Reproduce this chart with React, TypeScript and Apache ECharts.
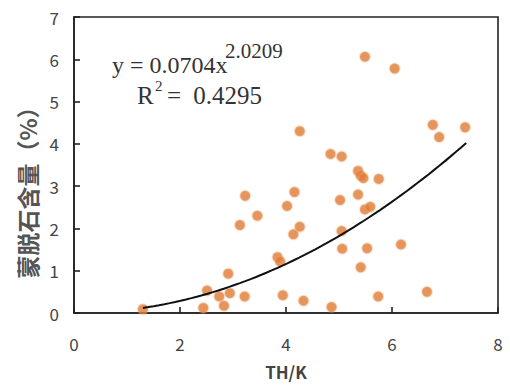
import React, { useEffect, useRef } from "react";
import * as echarts from "echarts";

const thK = [1.30, 2.44, 2.51, 2.74, 2.83, 2.94, 2.91, 3.22, 3.13, 3.23, 3.46, 3.84, 3.89, 3.94, 4.02, 4.14, 4.16, 4.26, 4.26, 4.33, 4.84, 4.86, 5.05, 5.02, 5.05, 5.06, 5.36, 5.41, 5.46, 5.36, 5.49, 5.59, 5.41, 5.53, 5.49, 5.75, 5.74, 6.05, 6.17, 6.66, 6.77, 6.89, 7.38];
const smectite = [0.09, 0.12, 0.53, 0.39, 0.17, 0.47, 0.93, 0.39, 2.08, 2.77, 2.30, 1.32, 1.22, 0.42, 2.53, 1.86, 2.86, 2.04, 4.30, 0.29, 3.76, 0.14, 3.70, 2.67, 1.94, 1.52, 3.36, 3.25, 3.19, 2.80, 2.45, 2.51, 1.08, 1.53, 6.06, 3.17, 0.39, 5.78, 1.62, 0.50, 4.45, 4.16, 4.39];

// Fitted power-law trendline shown in the chart: y = 0.0704 x^2.0209
const fitA = 0.0704;
const fitB = 2.0209;
const fitRange = [1.3, 7.4];
const fitSteps = 60;

const xTicks = [0, 2, 4, 6, 8];
const yTicks = [0, 1, 2, 3, 4, 5, 6, 7];

export default function App() {
  const ref = useRef<HTMLDivElement>(null);
  useEffect(() => {
    if (!ref.current) return;
    const chart = echarts.init(ref.current, null, { renderer: "svg" });
    const pts = thK.map((x, i) => [x, smectite[i]]);
    const fit: number[][] = [];
    for (let i = 0; i <= fitSteps; i++) {
      const x = fitRange[0] + ((fitRange[1] - fitRange[0]) * i) / fitSteps;
      fit.push([x, fitA * Math.pow(x, fitB)]);
    }
    const tickFont = {
      fontFamily: "Noto Sans CJK SC",
      fontSize: 17,
      color: "#444",
    };
    const serif = (text: string, x: number, y: number, size: number, align = "left") => ({
      type: "text",
      x,
      y,
      style: {
        text,
        fontFamily: "Liberation Serif",
        fontSize: size,
        fill: "#333",
        verticalAlign: "middle",
        align,
      },
    });
    chart.setOption({
      animation: false,
      backgroundColor: "#fff",
      grid: {
        left: 74,
        right: 12,
        top: 17,
        bottom: 78,
        show: true,
        borderColor: "#222",
        borderWidth: 1.6,
      },
      xAxis: {
        type: "value",
        min: xTicks[0],
        max: xTicks[xTicks.length - 1],
        interval: 2,
        name: "TH/K",
        nameLocation: "middle",
        nameGap: 50,
        nameTextStyle: {
          fontFamily: "Noto Sans CJK SC",
          fontSize: 17,
          fontWeight: "bold",
          color: "#444",
        },
        axisLine: { show: true, lineStyle: { color: "#222", width: 1.6 } },
        axisTick: { show: true, inside: true, length: 6, lineStyle: { color: "#222", width: 1.6 } },
        axisLabel: { ...tickFont, margin: 22 },
        splitLine: { show: false },
      },
      yAxis: {
        type: "value",
        min: yTicks[0],
        max: yTicks[yTicks.length - 1],
        interval: 1,
        axisLine: { show: true, lineStyle: { color: "#222", width: 1.6 } },
        axisTick: { show: true, inside: true, length: 6, lineStyle: { color: "#222", width: 1.6 } },
        axisLabel: { ...tickFont, margin: 15 },
        splitLine: { show: false },
      },
      series: [
        {
          type: "scatter",
          data: pts,
          symbolSize: 10,
          itemStyle: {
            color: "#DE7A33",
            borderColor: "rgba(240,170,120,0.4)",
            borderWidth: 2,
          },
          z: 2,
        },
        {
          type: "line",
          data: fit,
          showSymbol: false,
          smooth: false,
          lineStyle: { color: "#111", width: 2 },
          z: 3,
        },
      ],
      graphic: [
        serif("y = 0.0704x", 112, 64.5, 24),
        serif("2.0209", 225, 51, 21),
        serif("R", 137, 95.5, 25),
        serif("2", 155, 86, 15),
        serif("=", 167, 95.5, 25),
        serif("0.4295", 262, 95.5, 25, "right"),
        {
          type: "text",
          x: 27,
          y: 187,
          rotation: Math.PI / 2,
          style: {
            text: "蒙脱石含量（%）",
            fontFamily: "Noto Sans CJK SC",
            fontSize: 23,
            fontWeight: "bold",
            fill: "#555",
            align: "center",
            verticalAlign: "middle",
          },
        },
      ],
    });
    return () => chart.dispose();
  }, []);
  return <div ref={ref} style={{ width: 510, height: 391, position: "absolute", left: 0, top: 0 }} />;
}
